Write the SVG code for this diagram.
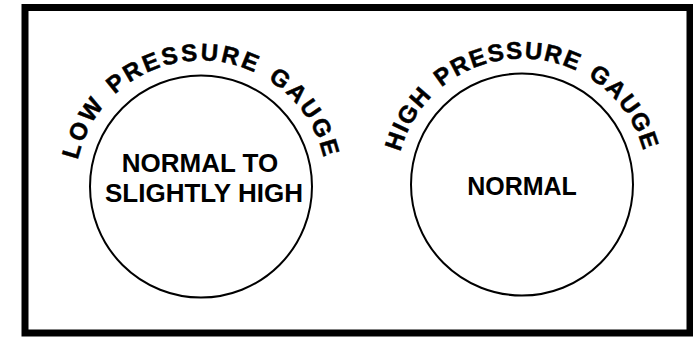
<svg xmlns="http://www.w3.org/2000/svg" width="693" height="338" viewBox="0 0 693 338">
<style>
.frame{fill:none;stroke:#000;stroke-width:7}
.dial{fill:#fff;stroke:#000;stroke-width:2}
.arc{font-family:"Liberation Sans",Arial,sans-serif;font-weight:bold;font-size:24px;fill:#000;stroke:#000;stroke-width:0.5}
.val{font-family:"Liberation Sans",Arial,sans-serif;font-weight:bold;font-size:26px;fill:#000;text-anchor:middle}
</style>
<defs>
<path id="arcL" d="M 75 186.5 A 126 126 0 0 1 327 186.5"/>
<path id="arcR" d="M 396 184.5 A 126 126 0 0 1 648 184.5"/>
</defs>
<rect class="frame" x="25" y="7.5" width="665" height="325.5"/>
<g id="low-gauge">
<circle class="dial" cx="201" cy="186.5" r="111"/>
<text class="arc" letter-spacing="2.6" word-spacing="3"><textPath href="#arcL" startOffset="50%" text-anchor="middle">LOW PRESSURE GAUGE</textPath></text>
<text class="val" x="200" y="172">NORMAL TO</text>
<text class="val" x="204" y="202">SLIGHTLY HIGH</text>
</g>
<g id="high-gauge">
<circle class="dial" cx="522" cy="184.5" r="111"/>
<text class="arc" letter-spacing="1.6" word-spacing="3"><textPath href="#arcR" startOffset="50%" text-anchor="middle">HIGH PRESSURE GAUGE</textPath></text>
<text class="val" x="522" y="194.5" style="font-size:25px">NORMAL</text>
</g>
<g id="connectors"/>
</svg>
